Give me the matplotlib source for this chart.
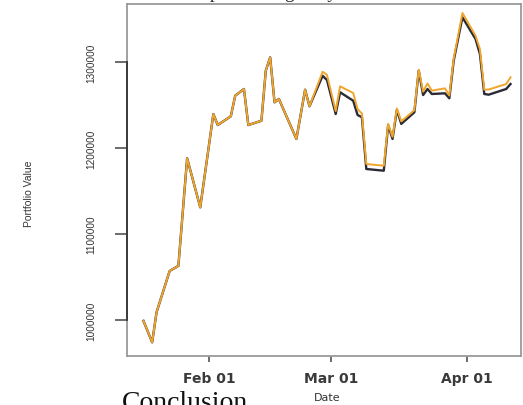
import matplotlib
matplotlib.use("Agg")
import matplotlib.pyplot as plt
import matplotlib.dates as mdates
import pandas as pd

# ---- data ----
dates = ["2023-01-17", "2023-01-19", "2023-01-20", "2023-01-23", "2023-01-25",
         "2023-01-27", "2023-01-30", "2023-02-02", "2023-02-03", "2023-02-06",
         "2023-02-07", "2023-02-09", "2023-02-10", "2023-02-13", "2023-02-14",
         "2023-02-15", "2023-02-16", "2023-02-17", "2023-02-21", "2023-02-23",
         "2023-02-24", "2023-02-27", "2023-02-28", "2023-03-02", "2023-03-03",
         "2023-03-06", "2023-03-07", "2023-03-08", "2023-03-09", "2023-03-13",
         "2023-03-14", "2023-03-15", "2023-03-16", "2023-03-17", "2023-03-20",
         "2023-03-21", "2023-03-22", "2023-03-23", "2023-03-24", "2023-03-27",
         "2023-03-28", "2023-03-29", "2023-03-31", "2023-04-03", "2023-04-04",
         "2023-04-05", "2023-04-06", "2023-04-10", "2023-04-11"]

strategy_value = [999000, 974000, 1009000, 1057000, 1063000,
                  1188000, 1131000, 1239500, 1226700, 1236900,
                  1260800, 1268600, 1226700, 1231700, 1290000,
                  1305400, 1253100, 1257000, 1210500, 1267800,
                  1248500, 1284000, 1279000, 1239500, 1264800,
                  1255000, 1238400, 1235700, 1175600, 1173600,
                  1226700, 1210500, 1244500, 1228000, 1241500,
                  1290000, 1261600, 1268600, 1262800, 1263600,
                  1257800, 1301500, 1352000, 1326700, 1309300,
                  1262800, 1262000, 1268600, 1274400]

benchmark_value = [999000, 974000, 1009000, 1057000, 1063000,
                   1188000, 1131000, 1239500, 1226700, 1236900,
                   1260800, 1268600, 1226700, 1231700, 1290000,
                   1305400, 1253100, 1257000, 1210500, 1267800,
                   1248500, 1288700, 1285000, 1243000, 1271700,
                   1264000, 1245300, 1240000, 1181400, 1179400,
                   1228000, 1213000, 1246000, 1231000, 1244000,
                   1291000, 1265500, 1275000, 1266700, 1269400,
                   1261000, 1304000, 1357000, 1330600, 1315000,
                   1267800, 1268000, 1274400, 1282200]

y_ticks = [1000000, 1100000, 1200000, 1300000]
y_tick_labels = ["1000000", "1100000", "1200000", "1300000"]
x_ticks = ["2023-02-01", "2023-03-01", "2023-04-01"]
x_tick_labels = ["Feb 01", "Mar 01", "Apr 01"]

# ---- figure ----
W, H = 523, 406
fig = plt.figure(figsize=(W / 100, H / 100), dpi=100)
L, R, T, B = 127, 521, 5, 357
ax = fig.add_axes([L / W, 1 - B / H, (R - L) / W, (B - T) / H])

d = pd.to_datetime(dates)
ax.plot(d, strategy_value, color="#2b2b38", lw=1.7, solid_joinstyle="round", zorder=2)
ax.plot(d, benchmark_value, color="#F0A62C", lw=1.4, solid_joinstyle="round", zorder=3)

feb1 = mdates.date2num(pd.Timestamp("2023-02-01"))
ax.set_xlim(feb1 - 18.76, feb1 + 71.4)
ax.set_ylim(958140, 1367442)

ax.set_yticks(y_ticks)
ax.set_yticklabels(y_tick_labels, rotation=90, va="center",
                   family=["Liberation Sans Narrow", "Liberation Sans"],
                   fontsize=7.2, color="#333333")
ax.set_xticks(pd.to_datetime(x_ticks))
ax.set_xticklabels(x_tick_labels, fontsize=10, fontweight="bold",
                   color="#3a3a3a", family="DejaVu Sans")

ax.tick_params(axis="y", length=9, width=1.1, color="#444444", pad=13)
ax.tick_params(axis="x", length=4, width=1.1, color="#444444", pad=7)

for s in ax.spines.values():
    s.set_color("#9a9a9a")
    s.set_linewidth(1.3)

# dark axis line between the first and last y ticks (R style)
ax.plot([0, 0], [y_ticks[0], y_ticks[-1]], transform=ax.get_yaxis_transform(),
        color="#333333", lw=1.3, clip_on=False, zorder=5)

ax.set_ylabel("Portfolio Value", family=["Liberation Sans Narrow", "Liberation Sans"],
              fontsize=7.5, color="#333333")
ax.yaxis.set_label_coords((33.5 - L) / (R - L), (B - 194) / (B - T))
ax.set_xlabel("Date", fontsize=8, color="#333333", family="DejaVu Sans", va="center")
ax.xaxis.set_label_coords((327 - L) / (R - L), (B - 398) / (B - T))

# cut-off surrounding document text
fig.text(182 / W, 1 + 1.5 / H, "Outperforming daily returns", family="Liberation Serif",
         fontsize=13.5, va="baseline", ha="left", color="#222222")
fig.text(122 / W, -4 / H, "Conclusion", family="Liberation Serif",
         fontsize=20, va="baseline", ha="left", color="#111111")

fig.savefig("out.png", dpi=100)
